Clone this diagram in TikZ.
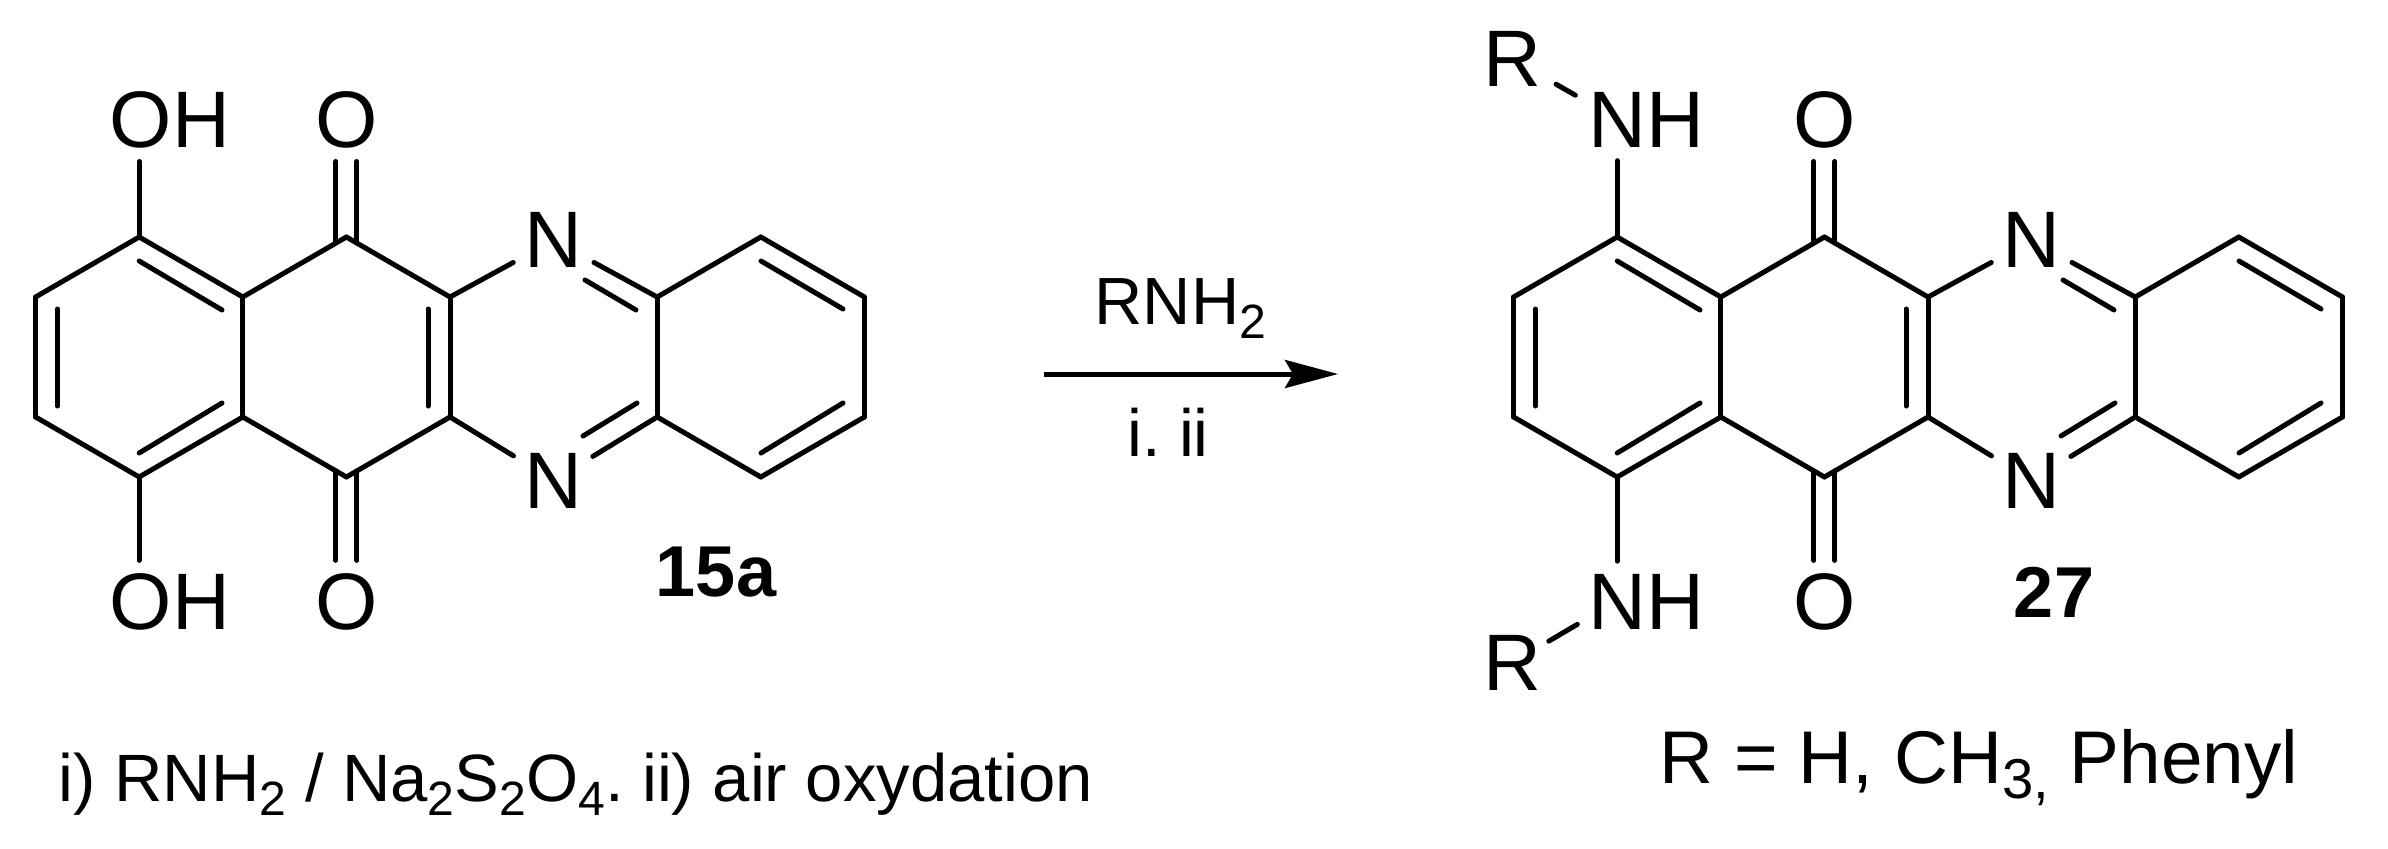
\documentclass[tikz,border=0pt]{standalone}
\usepackage{fontspec}
\setmainfont{Liberation Sans}
\usetikzlibrary{positioning,arrows.meta}
\newcommand{\chemsub}[1]{\raisebox{-.14cm}{\fontsize{13.7pt}{14pt}\selectfont #1}}
\newcommand{\notesub}[1]{\raisebox{-.15cm}{\fontsize{16pt}{17pt}\selectfont #1}}

\begin{document}
\begin{tikzpicture}[atom/.style = {inner xsep=0pt, inner ysep=.12cm, font=\fontsize{22.8pt}{24pt}\selectfont},
  txt/.style = {inner sep=0pt, font=\fontsize{19pt}{20pt}\selectfont},
  num/.style = {inner sep=0pt, font=\fontsize{20.5pt}{22pt}\selectfont\bfseries},
  bond/.style = {line width=.05cm, line cap=round, line join=round}]
\useasboundingbox (0,0) rectangle (23.88,8.48);

\foreach \m/\sh/\lab/\labx in {a/0/OH/1.09, b/14.78/NH/1.095} {
\begin{scope}[xshift=\sh cm, name prefix=\m-]
% ring atoms
\foreach \n/\x/\y in {c1/1.392/6.11, c2/2.428/5.51, c3/2.428/4.31, c4/1.392/3.71, c5/.356/4.31, c6/.356/5.51,
    c7/3.464/6.11, c8/4.5/5.51, c9/4.5/4.31, c10/3.464/3.71,
    c11/6.572/5.51, c12/6.572/4.31, c13/7.608/6.11, c14/8.644/5.51, c15/8.644/4.31, c16/7.608/3.71}
  \coordinate (\n) at (\x,\y);
% labels
\node[atom, anchor=base west] (sub1) at (\labx,7.00) {\lab};
\node[atom, anchor=base west] (sub2) at (\labx,2.19) {\lab};
\node[atom, anchor=base] (o1) at (3.464,7.00) {O};
\node[atom, anchor=base] (o2) at (3.464,2.19) {O};
\node[atom, anchor=base] (n1) at (5.536,5.80) {N};
\node[atom, anchor=base] (n2) at (5.536,3.40) {N};
% ring bonds
\foreach \a/\b in {c1/c2, c2/c3, c3/c4, c4/c5, c5/c6, c6/c1, c2/c7, c7/c8, c8/c9, c9/c10, c10/c3,
    c11/c12, c11/c13, c13/c14, c14/c15, c15/c16, c16/c12}
  \draw[bond] (\a) -- (\b);
% second lines of the double bonds
\foreach \n/\xa/\ya/\xb/\yb in {p/1.392/5.87/2.22/5.38, q/1.392/3.95/2.22/4.45, r/.575/5.39/.575/4.42,
    s/4.28/5.39/4.28/4.42, t/5.85/5.68/6.36/5.38, u/5.83/4.12/6.37/4.45,
    v/7.61/5.87/8.43/5.39, w/7.61/3.95/8.43/4.45} {
  \coordinate (\n a) at (\xa,\ya);
  \coordinate (\n b) at (\xb,\yb);
  \draw[bond] (\n a) -- (\n b);
}
% bonds to labels
\draw[bond] (c1) -- (c1 |- sub1.south);
\draw[bond] (c4) -- (c4 |- sub2.north);
\draw[bond, shorten >=.46cm] (c8) -- (n1.center);
\draw[bond, shorten >=.47cm] (c9) -- (n2.center);
\draw[bond, shorten <=.46cm] (n1.center) -- (c11);
\draw[bond, shorten <=.46cm] (n2.center) -- (c12);
\draw[bond] ([xshift=-.105cm,yshift=-.06cm]c7) -- ([xshift=-.105cm]c7 |- o1.south);
\draw[bond] ([xshift=.105cm,yshift=-.06cm]c7) -- ([xshift=.105cm]c7 |- o1.south);
\draw[bond] ([xshift=-.105cm,yshift=.06cm]c10) -- ([xshift=-.105cm]c10 |- o2.north);
\draw[bond] ([xshift=.105cm,yshift=.06cm]c10) -- ([xshift=.105cm]c10 |- o2.north);
\end{scope}
}

% R groups
\node[atom, anchor=base west] (r1) at (14.83,7.61) {R};
\node[atom, anchor=base west] (r2) at (14.83,1.58) {R};
\coordinate (nh1) at (16.17,7.29);
\coordinate (nh2) at (16.17,2.47);
\draw[bond, shorten <=.50cm, shorten >=.48cm] (r1.center) -- (nh1);
\draw[bond, shorten <=.42cm, shorten >=.46cm] (r2.center) -- (nh2);

% reaction arrow
\coordinate (arrow1) at (10.44,4.74);
\coordinate (arrow2) at (13.38,4.74);
\draw[line width=.05cm, -{Stealth[length=.53cm, width=.28cm, inset=.08cm]}] (arrow1) -- (arrow2);
\node[txt, anchor=base west] (rnh2) at (10.94,5.24) {RNH\chemsub{2}};
\node[txt, anchor=base] (cond) at (11.68,3.92) {i.\ ii};

% compound numbers
\node[num, anchor=base] (15a) at (7.16,2.52) {15a};
\node[num, anchor=base] (27) at (20.54,2.31) {27};

% notes
\node[txt, anchor=base west, font=\fontsize{19.06pt}{20pt}\selectfont] (note1) at (.58,.47) {i) RNH\chemsub{2} / Na\chemsub{2}S\chemsub{2}O\chemsub{4}.\ ii) air oxydation};
\node[txt, anchor=base west, font=\fontsize{21.25pt}{22pt}\selectfont] (note2) at (16.59,.65) {R = H, CH\notesub{3,} Phenyl};
\end{tikzpicture}
\end{document}
